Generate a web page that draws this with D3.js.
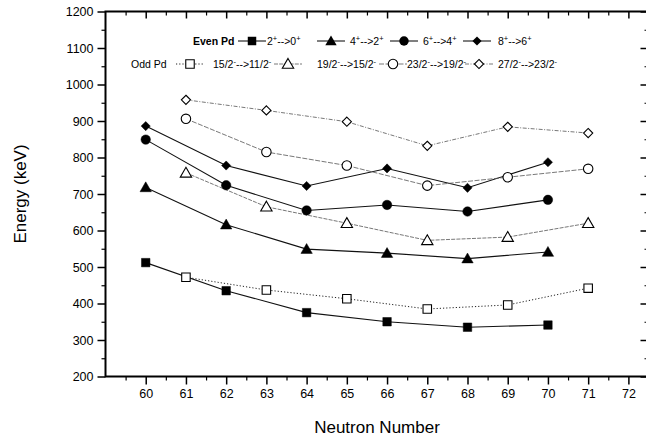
<!DOCTYPE html>
<html>
<head>
<meta charset="utf-8">
<script src="https://cdn.jsdelivr.net/npm/d3@7"></script>
<style>
  body { margin: 0; background: #fff; }
  svg { font-family: "Liberation Sans", Arial, sans-serif; }
</style>
</head>
<body>
<svg id="chart" width="646" height="441"></svg>
<script>
// neutron numbers
var evenN = [60, 62, 64, 66, 68, 70];
var oddN = [61, 63, 65, 67, 69, 71];

// even Pd transitions (keV)
var e2to0 = [512, 435, 375, 350, 335, 341];
var e4to2 = [718, 616, 549, 538, 523, 541];
var e6to4 = [849, 724, 655, 670, 652, 684];
var e8to6 = [886, 778, 722, 770, 717, 787];

// odd Pd transitions (keV)
var o15to11 = [472, 437, 413, 385, 396, 442];
var o19to15 = [758, 665, 620, 573, 582, 620];
var o23to19 = [906, 815, 778, 723, 746, 769];
var o27to23 = [958, 929, 898, 832, 884, 867];

var xTicks = [60, 61, 62, 63, 64, 65, 66, 67, 68, 69, 70, 71, 72];
var yTicks = [200, 300, 400, 500, 600, 700, 800, 900, 1000, 1100, 1200];

// legend labels: [base, sup, base, sup]
var evenLabels = [
  ['2', '+', '-->0', '+'],
  ['4', '+', '-->2', '+'],
  ['6', '+', '-->4', '+'],
  ['8', '+', '-->6', '+']
];
var oddLabels = [
  ['15/2', '-', '-->11/2', '-'],
  ['19/2', '-', '-->15/2', '-'],
  ['23/2', '-', '-->19/2', '-'],
  ['27/2', '-', '-->23/2', '-']
];

// square turned on its corner, like Origin's diamond
var symbolRhomb = {
  draw: function(ctx, size) {
    var r = Math.sqrt(size / 2);
    ctx.moveTo(0, -r);
    ctx.lineTo(r, 0);
    ctx.lineTo(0, r);
    ctx.lineTo(-r, 0);
    ctx.closePath();
  }
};

var series = [
  { n: evenN, v: e2to0, sym: d3.symbolSquare, fill: '#000', dash: null, w: 1.1, c: '#111' },
  { n: evenN, v: e4to2, sym: d3.symbolTriangle, fill: '#000', dash: null, w: 1.1, c: '#111' },
  { n: evenN, v: e6to4, sym: d3.symbolCircle, fill: '#000', dash: null, w: 1.1, c: '#111' },
  { n: evenN, v: e8to6, sym: symbolRhomb, fill: '#000', dash: null, w: 1.1, c: '#111' },
  { n: oddN, v: o15to11, sym: d3.symbolSquare, fill: '#fff', dash: '1.2,2', w: 1, c: '#222' },
  { n: oddN, v: o19to15, sym: d3.symbolTriangle, fill: '#fff', dash: '4,1.2', w: 0.8, c: '#555' },
  { n: oddN, v: o23to19, sym: d3.symbolCircle, fill: '#fff', dash: '5,1.5', w: 0.8, c: '#555' },
  { n: oddN, v: o27to23, sym: symbolRhomb, fill: '#fff', dash: '4,1.5,1,1.5', w: 0.8, c: '#555' }
];

var svg = d3.select('#chart');
var plotLeft = 105.5, plotRight = 648.5, plotTop = 11.5, plotBottom = 376.5;

var x = d3.scaleLinear().domain([59, 72.5]).range([plotLeft, plotRight]);
var y = d3.scaleLinear().domain([200, 1200]).range([plotBottom, plotTop]);

var symSize = function(sym) {
  if (sym === d3.symbolSquare) return 72;
  if (sym === d3.symbolTriangle) return 56;
  if (sym === symbolRhomb) return 42;
  return 70;
};

var noLabel = function() { return ''; };
var minorX = d3.range(59.5, 72.5, 1);
var minorY = d3.range(250, 1200, 100);

var styleAxis = function(g, width) {
  g.select('.domain').remove();
  g.attr('font-family', null);
  g.selectAll('line').attr('stroke-width', width);
  g.selectAll('text').attr('font-size', 12.5).attr('fill', '#000');
};

// bottom axis
svg.append('g').attr('transform', 'translate(0,' + plotBottom + ')')
  .call(d3.axisBottom(x).tickValues(xTicks).tickSize(8).tickPadding(5).tickFormat(d3.format('d')))
  .call(styleAxis, 1.5);
svg.append('g').attr('transform', 'translate(0,' + plotBottom + ')')
  .call(d3.axisBottom(x).tickValues(minorX).tickSize(4).tickFormat(noLabel))
  .call(styleAxis, 1.2);

// top axis, ticks inward
svg.append('g').attr('transform', 'translate(0,' + plotTop + ')')
  .call(d3.axisTop(x).tickValues(xTicks).tickSize(-7).tickFormat(noLabel))
  .call(styleAxis, 1.5);
svg.append('g').attr('transform', 'translate(0,' + plotTop + ')')
  .call(d3.axisTop(x).tickValues(minorX).tickSize(-4).tickFormat(noLabel))
  .call(styleAxis, 1.2);

// left axis
svg.append('g').attr('transform', 'translate(' + plotLeft + ',0)')
  .call(d3.axisLeft(y).tickValues(yTicks).tickSize(8).tickPadding(4).tickFormat(d3.format('d')))
  .call(styleAxis, 1.5);
svg.append('g').attr('transform', 'translate(' + plotLeft + ',0)')
  .call(d3.axisLeft(y).tickValues(minorY).tickSize(4).tickFormat(noLabel))
  .call(styleAxis, 1.2);

// right axis, ticks inward
svg.append('g').attr('transform', 'translate(' + plotRight + ',0)')
  .call(d3.axisRight(y).tickValues(yTicks).tickSize(-8).tickFormat(noLabel))
  .call(styleAxis, 1.5);
svg.append('g').attr('transform', 'translate(' + plotRight + ',0)')
  .call(d3.axisRight(y).tickValues(minorY).tickSize(-4).tickFormat(noLabel))
  .call(styleAxis, 1.2);

// frame
svg.append('rect').attr('x', plotLeft).attr('y', plotTop)
  .attr('width', plotRight - plotLeft).attr('height', plotBottom - plotTop)
  .attr('fill', 'none').attr('stroke', '#000').attr('stroke-width', 2);

// axis titles
svg.append('text').attr('x', 377).attr('y', 433)
  .attr('text-anchor', 'middle').attr('font-size', 17).text('Neutron Number');
svg.append('text').attr('transform', 'translate(26,194) rotate(-90)')
  .attr('text-anchor', 'middle').attr('font-size', 17).text('Energy (keV)');

// lines and markers
var line = d3.line().x(function(d) { return x(d[0]); }).y(function(d) { return y(d[1]); });

series.forEach(function(s) {
  var pts = s.n.map(function(n, i) { return [n, s.v[i]]; });
  svg.append('path').datum(pts).attr('d', line)
    .attr('fill', 'none').attr('stroke', s.c).attr('stroke-width', s.w)
    .attr('stroke-dasharray', s.dash);
});
series.forEach(function(s) {
  var pts = s.n.map(function(n, i) { return [n, s.v[i]]; });
  svg.append('g').selectAll('path').data(pts).enter().append('path')
    .attr('d', d3.symbol().type(s.sym).size(symSize(s.sym)))
    .attr('transform', function(d) {
      var dy = s.sym === d3.symbolTriangle ? 1 : 0;
      return 'translate(' + x(d[0]) + ',' + (y(d[1]) + dy) + ')';
    })
    .attr('fill', s.fill).attr('stroke', '#000').attr('stroke-width', s.fill === '#fff' ? 1.1 : 0.5);
});

// legend
var addLabel = function(g, xPos, yPos, parts) {
  var t = g.append('text').attr('x', xPos).attr('y', yPos).attr('font-size', 10.5);
  parts.forEach(function(p, i) {
    var sp = t.append('tspan').text(p);
    if (i % 2 === 1) {
      sp.attr('font-size', 7.5).attr('dy', -4);
    } else if (i > 0) {
      sp.attr('dy', 4);
    }
  });
};

var legend = svg.append('g');
legend.append('text').attr('x', 193).attr('y', 45).attr('font-size', 10.5)
  .attr('font-weight', 'bold').text('Even Pd');
legend.append('text').attr('x', 131).attr('y', 68).attr('font-size', 10.5)
  .text('Odd Pd');

var evenLineX = [238, 317, 390, 463];
var evenTextX = [267, 350, 423, 498];
var oddLineX = [176, 274, 379, 465];
var oddTextX = [213, 317, 407, 498];

evenLabels.forEach(function(lab, i) {
  var s = series[i];
  legend.append('line').attr('x1', evenLineX[i]).attr('x2', evenLineX[i] + 28)
    .attr('y1', 41).attr('y2', 41).attr('stroke', '#000').attr('stroke-width', 1);
  legend.append('path').attr('d', d3.symbol().type(s.sym).size(symSize(s.sym)))
    .attr('transform', 'translate(' + (evenLineX[i] + 14) + ',' + (s.sym === d3.symbolTriangle ? 42 : 41) + ')')
    .attr('fill', '#000');
  addLabel(legend, evenTextX[i], 45, lab);
});

oddLabels.forEach(function(lab, i) {
  var s = series[i + 4];
  legend.append('line').attr('x1', oddLineX[i]).attr('x2', oddLineX[i] + 28)
    .attr('y1', 64).attr('y2', 64).attr('stroke', s.c).attr('stroke-width', s.w)
    .attr('stroke-dasharray', s.dash);
  legend.append('path').attr('d', d3.symbol().type(s.sym).size(symSize(s.sym)))
    .attr('transform', 'translate(' + (oddLineX[i] + 14) + ',' + (s.sym === d3.symbolTriangle ? 65 : 64) + ')')
    .attr('fill', '#fff').attr('stroke', '#000').attr('stroke-width', 1.1);
  addLabel(legend, oddTextX[i], 68, lab);
});
</script>
</body>
</html>
